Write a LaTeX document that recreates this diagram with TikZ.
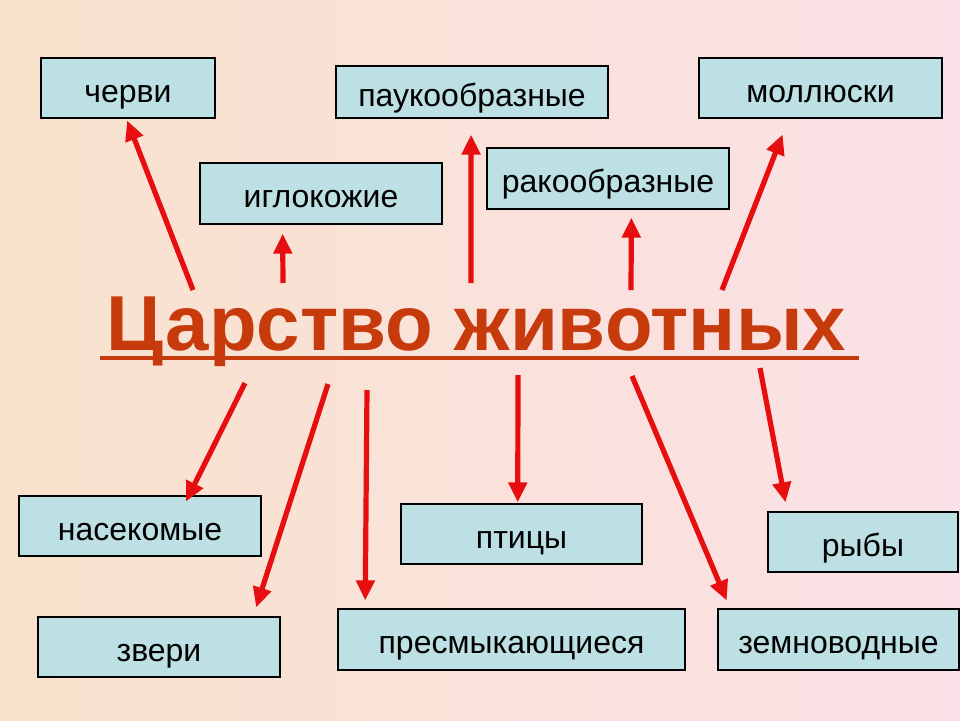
\documentclass[tikz,border=0pt]{standalone}
\usepackage{fontspec}
\setmainfont{Liberation Sans}
\usetikzlibrary{arrows.meta}

\definecolor{fondobox}{RGB}{188,224,228}
\definecolor{rosso}{RGB}{230,14,14}
\definecolor{titolocol}{RGB}{198,58,12}
\definecolor{sfondosx}{RGB}{249,226,204}
\definecolor{sfondomid}{RGB}{251,235,226}
\definecolor{sfondodx}{RGB}{250,225,231}

\tikzset{
    casella/.style={draw=black, line width=0.6pt, fill=fondobox, inner sep=0pt,
        text height=14pt, text depth=0pt, font=\fontsize{16}{18}\selectfont},
    freccia/.style={draw=rosso, line width=2.6pt, -{Triangle[length=10pt,width=9pt]}}
}

\begin{document}
\begin{tikzpicture}[x=0.5pt, y=-0.5pt]
    % Sfondo sfumato
    \useasboundingbox (0,0) rectangle (960,720);
    \shade[left color=sfondosx, middle color=sfondomid, right color=sfondodx] (0,0) rectangle (960,720);

    % Caselle: nome/x/y/larghezza/altezza/testo
    \foreach \n/\x/\y/\w/\h/\t in {cherv/128/88/87/30/черви,
                                   iglo/321/193.5/121/30.5/иглокожие,
                                   pauk/472/92/136/26/паукообразные,
                                   rako/608/178.5/121/30.5/ракообразные,
                                   moll/820.5/88/121.5/30/моллюски,
                                   nasek/140/526/121/30/насекомые,
                                   zveri/159/647/121/30/звери,
                                   presm/511.5/639.5/173.5/30.5/пресмыкающиеся,
                                   ptic/521.5/534/120.5/30/птицы,
                                   ryby/863/542/95/30/рыбы,
                                   zemn/838.5/639.5/120.5/30.5/земноводные} {
        \node[casella, minimum width=\w pt, minimum height=\h pt] (\n) at (\x,\y) {\t};
    }

    % Titolo al centro
    \node[anchor=base, text=titolocol, font=\bfseries\fontsize{39}{44}\selectfont] (titolo) at (476,350) {Царство животных};
    \draw[titolocol, line width=2pt] (100,358) -- (859,358);

    % Punti di partenza delle frecce
    \foreach \n/\x/\y in {c1/193/290, c2/283/283, c3/471/283, c4/631/290, c5/722/290,
                          c6/245/383, c7/328/384, c8/367/390, c9/518/375, c10/632/376, c11/760/368} {
        \coordinate (\n) at (\x,\y);
    }

    % Frecce verso le caselle
    \foreach \da/\a/\acc in {c1/cherv.267/1pt, c2/iglo.219/4.5pt, c3/pauk.268/8pt,
                             c4/rako.307/4pt, c5/moll.224/8.5pt, c6/nasek.32/-3.5pt,
                             c7/zveri.18/4.75pt, c8/presm.168/4pt, c9/ptic.97/0.5pt,
                             c10/zemn.164/4.3pt, c11/ryby.158/4.6pt} {
        \draw[freccia, shorten >=\acc] (\da) -- (\a);
    }
\end{tikzpicture}
\end{document}
